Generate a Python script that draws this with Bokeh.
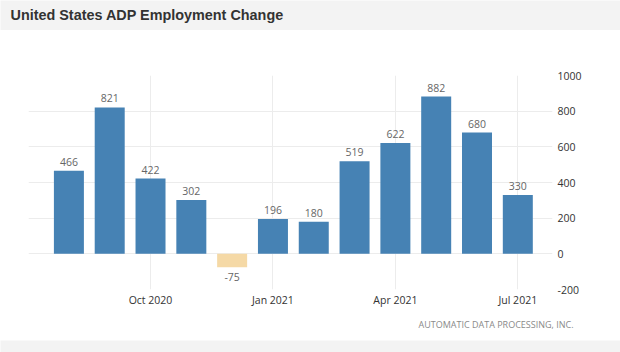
from bokeh.plotting import figure
from bokeh.models import ColumnDataSource, Range1d, FixedTicker, Label
from bokeh.layouts import column
from bokeh.core.properties import value
from bokeh.embed import file_html
from bokeh.resources import INLINE

# ---- data ----
months = ["Aug 2020", "Sep 2020", "Oct 2020", "Nov 2020", "Dec 2020", "Jan 2021",
          "Feb 2021", "Mar 2021", "Apr 2021", "May 2021", "Jun 2021", "Jul 2021"]
values = [466, 821, 422, 302, -75, 196, 180, 519, 622, 882, 680, 330]
tick_months = ["Oct 2020", "Jan 2021", "Apr 2021", "Jul 2021"]
y_ticks = [-200, 0, 200, 400, 600, 800, 1000]
title_text = "United States ADP Employment Change"
source_text = "AUTOMATIC DATA PROCESSING, INC."

BAND = "#f3f3f3"
POS = "#4682b4"
NEG = "#f5d9a6"

xs = list(range(len(months)))
src = ColumnDataSource(dict(
    x=xs,
    top=values,
    color=[POS if v >= 0 else NEG for v in values],
    label=[str(v) for v in values],
    base=["bottom" if v >= 0 else "top" for v in values],
    off=[-5 if v >= 0 else 6 for v in values],
))


def band(h, fill):
    f = figure(width=620, height=h, x_axis_type=None, y_axis_type=None,
               x_range=Range1d(0, 1), y_range=Range1d(0, 1),
               toolbar_location=None, output_backend="svg",
               min_border=0, min_border_left=0, min_border_right=0,
               min_border_top=0, min_border_bottom=0,
               outline_line_color=None,
               background_fill_color=fill, border_fill_color=fill)
    f.frame_align = False
    return f


# ---- title band ----
top = band(30, BAND)
top.add_layout(Label(x=10, y=16, x_units="screen", y_units="screen", text=title_text,
                     text_font="Liberation Sans", text_font_style="bold",
                     text_font_size="14.4px", text_color="#333333",
                     text_baseline="middle", text_align="left"))

# ---- main chart ----
p = figure(width=620, height=282, toolbar_location=None, output_backend="svg",
           x_range=Range1d(-0.99, 11.85), y_range=Range1d(-200, 1000),
           y_axis_location="right",
           min_border_left=28, min_border_right=68, min_border_top=45, min_border_bottom=23,
           outline_line_color=None, background_fill_color="white", border_fill_color="white")
p.frame_align = False

p.vbar(x="x", top="top", bottom=0, width=0.735, fill_color="color", line_color=None, source=src)
p.text(x="x", y="top", text="label", source=src, text_align="center",
       text_baseline="base", y_offset="off",
       text_font=value("Open Sans"), text_font_size="10.5px", text_color="#666666")

tick_idx = [months.index(m) for m in tick_months]
p.xaxis.ticker = FixedTicker(ticks=tick_idx)
p.xaxis.major_label_overrides = {i: months[i] for i in tick_idx}
p.yaxis.ticker = FixedTicker(ticks=y_ticks)
p.yaxis.major_label_overrides = {t: str(t) for t in y_ticks}
for ax in (p.xaxis, p.yaxis):
    ax.axis_line_color = None
    ax.major_tick_line_color = None
    ax.minor_tick_line_color = None
    ax.major_tick_out = 0
    ax.major_tick_in = 0
    ax.minor_tick_out = 0
    ax.major_label_text_font = "Open Sans"
    ax.major_label_text_font_size = "10.5px"
    ax.major_label_text_color = "#333333"
p.xaxis.major_label_standoff = 3
p.yaxis.major_label_standoff = 5
p.xgrid.grid_line_color = "#ececec"
p.ygrid.grid_line_color = "#ececec"

# ---- source line ----
foot = band(28, "white")
foot.add_layout(Label(x=573, y=16, x_units="screen", y_units="screen", text=source_text,
                      text_font="Open Sans", text_font_size="9px", text_color="#8a8a8a",
                      text_align="right", text_baseline="middle"))

# ---- footer band ----
bot = band(12, BAND)

layout = column(top, p, foot, bot, spacing=0)
open("out.html", "w").write(file_html(layout, INLINE))
